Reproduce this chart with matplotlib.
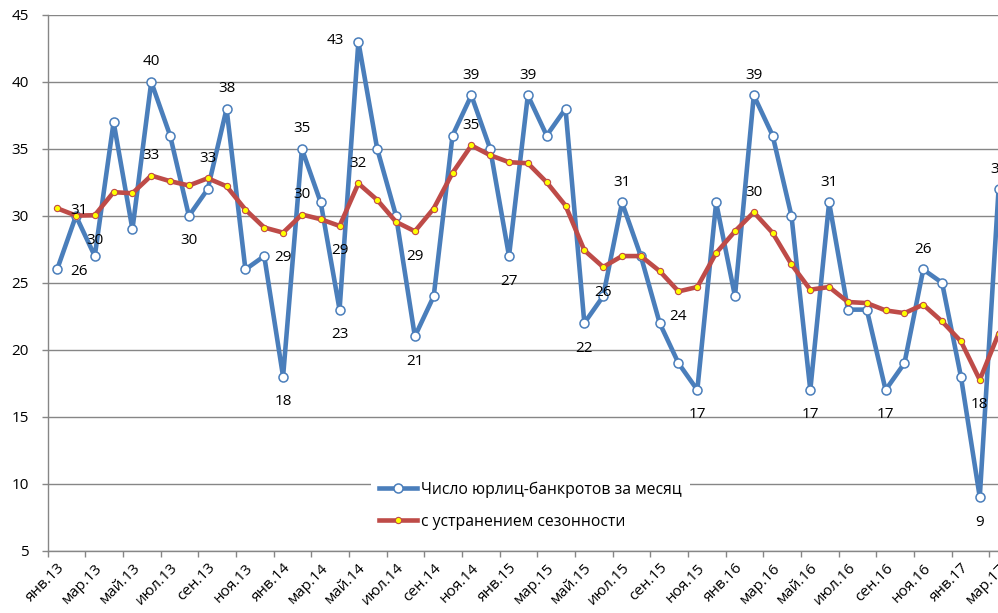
import numpy as np
import matplotlib
matplotlib.use("Agg")
import matplotlib.pyplot as plt

plt.rcParams["font.family"] = ["Open Sans", "DejaVu Sans"]

# monthly counts, Jan 2013 .. Mar 2017
months = ["янв", "фев", "мар", "апр", "май", "июн",
          "июл", "авг", "сен", "окт", "ноя", "дек"]
periods = [f"{months[k % 12]}.{13 + k // 12}" for k in range(51)]

bankrupts = [26, 30, 27, 37, 29, 40, 36, 30, 32, 38, 26, 27,
             18, 35, 31, 23, 43, 35, 30, 21, 24, 36, 39, 35,
             27, 39, 36, 38, 22, 24, 31, 27, 22, 19, 17, 31,
             24, 39, 36, 30, 17, 31, 23, 23, 17, 19, 26, 25,
             18, 9, 32]
seas_adj = [30.57, 30.02, 30.05, 31.77, 31.69, 33.01, 32.59, 32.27, 32.81, 32.21, 30.47, 29.13,
            28.75, 30.10, 29.75, 29.25, 32.42, 31.19, 29.55, 28.85, 30.55, 33.21, 35.26, 34.53,
            34.01, 33.93, 32.51, 30.77, 27.43, 26.18, 27.00, 27.00, 25.88, 24.36, 24.69, 27.23,
            28.85, 30.27, 28.73, 26.38, 24.49, 24.69, 23.57, 23.49, 22.94, 22.74, 23.37, 22.12,
            20.63, 17.76, 21.20]

# which points carry a data label, and where it sits
blue_labels = [(0, "right"), (5, "above"), (7, "below"), (9, "above"), (12, "below"),
               (13, "above"), (15, "below"), (16, "left"), (19, "below"), (22, "above"),
               (24, "below"), (25, "above"), (28, "below"), (30, "above"), (34, "below"),
               (37, "above"), (40, "below"), (41, "above"), (44, "below"), (46, "above"),
               (49, "below"), (50, "above")]
red_labels = [(0, "right"), (2, "below"), (5, "above"), (8, "above"), (12, "below"),
              (13, "above"), (15, "below"), (16, "above"), (19, "below"), (22, "above"),
              (29, "below"), (33, "below"), (37, "above"), (49, "below")]

BLUE = "#4a7ebb"
RED = "#be4b48"
GRID = "#868686"
FS = 11

W, H = 998, 613
fig = plt.figure(figsize=(W / 100, H / 100), dpi=100)
ax = fig.add_axes([47.7 / W, (H - 550.7) / H, (1008 - 47.7) / W, (550.7 - 15) / H])

x = np.arange(len(bankrupts))
ax.plot(x, bankrupts, color=BLUE, lw=3.3, marker="o", ms=6.5, mfc="white",
        mec=BLUE, mew=1.1, zorder=3, clip_on=False,
        label="Число юрлиц-банкротов за месяц")
ax.plot(x, seas_adj, color=RED, lw=3.3, marker="o", ms=4.5, mfc="#ffff00",
        mec=RED, mew=0.8, zorder=4, clip_on=False,
        label="с устранением сезонности")

offsets = {"above": (0, 20), "below": (0, -25), "right": (22, -2), "left": (-23, 1)}
for series, labels in ((bankrupts, blue_labels), (seas_adj, red_labels)):
    for i, pos in labels:
        dx, dy = offsets[pos]
        ax.annotate(f"{int(np.floor(series[i] + 0.5))}", xy=(i, series[i]),
                    xytext=(dx, dy), textcoords="offset pixels",
                    ha="center", va="center", fontsize=FS, color="black", zorder=6)

ax.set_xlim(-0.5, 50.5)
ax.set_ylim(5, 45)
ax.set_yticks(np.arange(5, 46, 5))
ax.yaxis.grid(True, color=GRID, lw=1.0)
ax.set_axisbelow(True)
ax.tick_params(axis="y", length=4.5, width=1, color=GRID, pad=9, labelsize=FS)

# tick marks on category boundaries, labels under every other month
ax.set_xticks(np.arange(-0.5, 51, 2))
ax.set_xticklabels([])
ax.tick_params(axis="x", which="major", length=4.5, width=1, color=GRID)
ax.set_xticks(x[::2], minor=True)
ax.set_xticklabels(periods[::2], minor=True, rotation=45, ha="right",
                   rotation_mode="anchor", fontsize=FS)
ax.tick_params(axis="x", which="minor", length=0, pad=7)

for s in ("top", "right"):
    ax.spines[s].set_visible(False)
for s in ("left", "bottom"):
    ax.spines[s].set_color(GRID)
    ax.spines[s].set_linewidth(1.0)

leg = ax.legend(loc="center left", bbox_to_anchor=((371) / W, (H - 505.5) / H),
                bbox_transform=fig.transFigure, borderaxespad=0, frameon=True,
                fancybox=False, edgecolor="none", facecolor="white", framealpha=1,
                fontsize=11.3, handlelength=2.4, handletextpad=0.3, labelspacing=1.0,
                borderpad=0.5)

fig.savefig("out.png", dpi=100, facecolor="white")
